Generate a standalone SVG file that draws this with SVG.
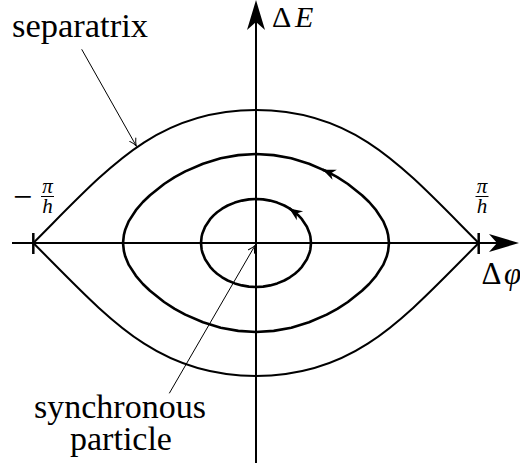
<svg xmlns="http://www.w3.org/2000/svg" width="520" height="466" viewBox="0 0 520 466">
<style>
.lbl{font-family:"Liberation Serif","DejaVu Serif",serif;fill:#000}
.it{font-style:italic}
.orbit{fill:none;stroke:#000;stroke-width:2.6;stroke-linejoin:round}
.sep{fill:none;stroke:#000;stroke-width:2}
.axis{fill:none;stroke:#000;stroke-width:2}
.tick{stroke:#000;stroke-width:2.5}
.leader{fill:none;stroke:#000;stroke-width:1}
</style>
<defs>
<marker id="axisHead" markerUnits="userSpaceOnUse" orient="auto" refX="0" refY="0" markerWidth="40" markerHeight="40" overflow="visible">
<path d="M22,0 L-8,-9 L0,0 L-8,9 Z" fill="#000"/>
</marker>
<marker id="orbitHead" markerUnits="userSpaceOnUse" orient="auto" refX="0" refY="0" markerWidth="20" markerHeight="20" overflow="visible">
<path d="M0,0 L-13,-5.5 L-9,0 L-13,5.5 Z" fill="#000"/>
</marker>
<marker id="leaderHead" markerUnits="userSpaceOnUse" orient="auto" refX="0" refY="0" markerWidth="20" markerHeight="20" overflow="visible">
<path d="M-7,-3.5 Q-3,-0.8 0,0 Q-3,0.8 -7,3.5" fill="none" stroke="#000" stroke-width="1" stroke-linecap="round"/>
</marker>
</defs>

<g id="axes">
<path class="axis" d="M12,243 L497,243" marker-end="url(#axisHead)"/>
<path class="axis" d="M256,463 L256,22" marker-end="url(#axisHead)"/>
<line class="tick" x1="33.3" y1="233" x2="33.3" y2="254"/>
<line class="tick" x1="478.7" y1="233" x2="478.7" y2="254"/>
</g>

<g id="separatrix">
<path class="sep" d="M33.3,243 C108.3,168 156,110 256,110 C356,110 403.7,168 478.7,243 C403.7,318 356,376 256,376 C156,376 108.3,318 33.3,243 Z"/>
</g>

<g id="orbit-middle">
<path class="orbit" d="M256,154 L273.7,155.1 L291.3,158.3 L309,163.7 L326.7,171.4 L337.3,177.2 L347.9,184 L362,195.2 L369.1,202 L376.1,210.2 L383.2,221.1 L386.7,229.4 L388.1,234.8 L389,243 L388.1,251.2 L386.7,256.6 L383.2,264.9 L376.1,275.8 L369.1,284 L362,290.8 L347.9,302 L337.3,308.8 L326.7,314.6 L309,322.3 L291.3,327.7 L273.7,330.9 L256,332 L238.3,330.9 L220.7,327.7 L203,322.3 L185.3,314.6 L174.7,308.8 L164.1,302 L150,290.8 L142.9,284 L135.9,275.8 L128.8,264.9 L125.3,256.6 L123.9,251.2 L123,243 L123.9,234.8 L125.3,229.4 L128.8,221.1 L135.9,210.2 L142.9,202 L150,195.2 L164.1,184 L174.7,177.2 L185.3,171.4 L203,163.7 L220.7,158.3 L238.3,155.1 Z"/>
<path class="orbit" d="M326.7,171.4 L322.7,169.7" marker-end="url(#orbitHead)"/>
</g>

<g id="orbit-inner">
<path class="orbit" d="M256,199 L263.1,199.4 L270.1,200.6 L277.2,202.6 L284.3,205.5 L289.9,208.7 L294.9,212.3 L298.4,215.4 L301.9,219.2 L306.9,226.7 L309.7,233.8 L310.4,236.8 L311,243 L310.4,249.2 L309.7,252.2 L306.9,259.3 L301.9,266.8 L298.4,270.6 L294.9,273.7 L289.9,277.3 L284.3,280.5 L277.2,283.4 L270.1,285.4 L263.1,286.6 L256,287 L248.9,286.6 L241.9,285.4 L234.8,283.4 L227.7,280.5 L222.1,277.3 L217.1,273.7 L213.6,270.6 L210.1,266.8 L205.1,259.3 L202.3,252.2 L201.6,249.2 L201,243 L201.6,236.8 L202.3,233.8 L205.1,226.7 L210.1,219.2 L213.6,215.4 L217.1,212.3 L222.1,208.7 L227.7,205.5 L234.8,202.6 L241.9,200.6 L248.9,199.4 Z"/>
<path class="orbit" d="M294.9,212.3 L289.3,208.4" marker-end="url(#orbitHead)"/>
</g>

<g id="connectors">
<path class="leader" d="M81.7,49.3 L136.2,145.8" marker-end="url(#leaderHead)"/>
<path class="leader" d="M169.3,393.3 L255,245.5" marker-end="url(#leaderHead)"/>
</g>

<g id="label-separatrix">
<text class="lbl" x="12" y="37" font-size="34.5">separatrix</text>
</g>
<g id="label-synchronous">
<text class="lbl" x="120" y="418" font-size="34" text-anchor="middle">synchronous</text>
<text class="lbl" x="121" y="450" font-size="34" text-anchor="middle">particle</text>
</g>
<g id="label-dE">
<text class="lbl" x="272" y="27" font-size="30">Δ<tspan class="it" x="295">E</tspan></text>
</g>
<g id="label-dphi">
<text class="lbl" x="481.5" y="284" font-size="31">Δ<tspan class="it" x="504">φ</tspan></text>
</g>
<g id="label-minus-pi-h">
<text class="lbl" x="13" y="208" font-size="34">−</text>
<text class="lbl it" x="47.5" y="193" font-size="21" text-anchor="middle">π</text>
<line x1="41" y1="196.5" x2="54" y2="196.5" stroke="#000" stroke-width="1"/>
<text class="lbl it" x="47.5" y="213" font-size="21" text-anchor="middle">h</text>
</g>
<g id="label-pi-h">
<text class="lbl it" x="482" y="193" font-size="21" text-anchor="middle">π</text>
<line x1="475.5" y1="196.5" x2="488.5" y2="196.5" stroke="#000" stroke-width="1"/>
<text class="lbl it" x="482" y="213" font-size="21" text-anchor="middle">h</text>
</g>
</svg>
